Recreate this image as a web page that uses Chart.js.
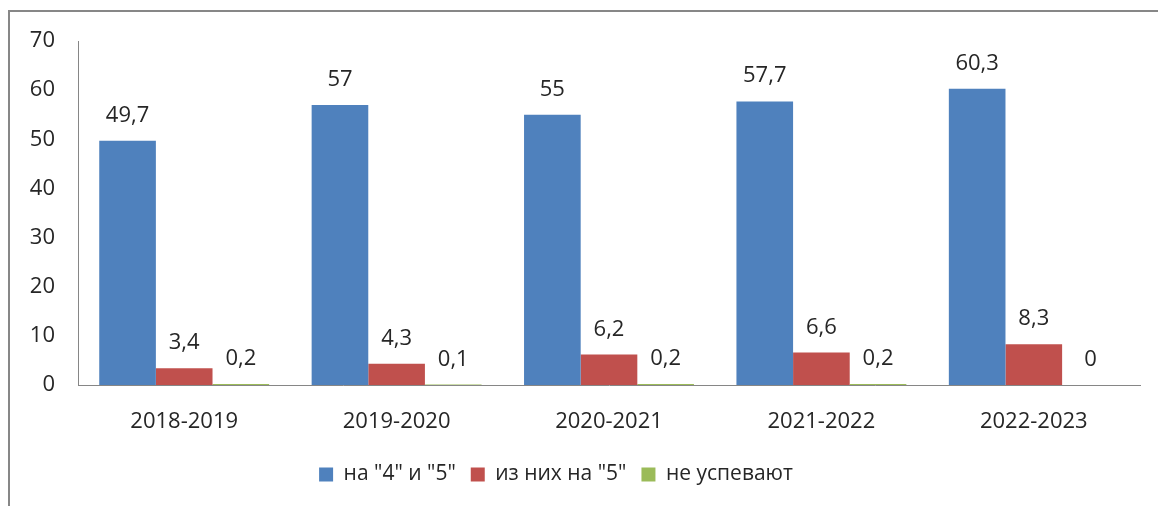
<!DOCTYPE html>
<html>
<head>
<meta charset="utf-8">
<script src="https://cdn.jsdelivr.net/npm/chart.js@4.4.1/dist/chart.umd.min.js"></script>
<style>
  body { margin: 0; background: #fff; overflow: hidden; }
  #frame { position: absolute; left: 8px; top: 10px; width: 1300px; height: 700px; border: 2px solid #878787; }
  #chart { position: absolute; left: 0; top: 0; }
</style>
</head>
<body>
<div id="frame"></div>
<canvas id="chart" width="1158" height="506"></canvas>
<script>
// Chart data
const years = ['2018-2019', '2019-2020', '2020-2021', '2021-2022', '2022-2023'];
const goodAndExcellent = [49.7, 57, 55, 57.7, 60.3];
const excellentOnly = [3.4, 4.3, 6.2, 6.6, 8.3];
const failing = [0.2, 0.1, 0.2, 0.2, 0];
const seriesNames = ['на "4" и "5"', 'из них на "5"', 'не успевают'];
const yTicks = [0, 10, 20, 30, 40, 50, 60, 70];

const fontFamily = '"Open Sans", sans-serif';
const textColor = '#262626';
const axisColor = '#868686';

Chart.defaults.font.family = fontFamily;
Chart.defaults.color = textColor;

// value labels above each bar, comma as decimal separator
const barValueLabels = {
  id: 'barValueLabels',
  afterDatasetsDraw(chart) {
    const ctx = chart.ctx;
    ctx.save();
    ctx.font = '22px ' + fontFamily;
    ctx.fillStyle = textColor;
    ctx.textAlign = 'center';
    ctx.textBaseline = 'alphabetic';
    chart.data.datasets.forEach((ds, i) => {
      chart.getDatasetMeta(i).data.forEach((bar, j) => {
        const txt = String(ds.data[j]).replace('.', ',');
        ctx.fillText(txt, bar.x, bar.y - 19);
      });
    });
    ctx.restore();
  }
};

// legend: fixed height, and centred a bit left like the original
const legendPlacement = {
  id: 'legendPlacement',
  beforeLayout(chart) {
    const legend = chart.legend;
    if (legend && !legend._fitPatched) {
      const origFit = legend.fit;
      legend.fit = function () {
        origFit.call(this);
        this.height = 57;
      };
      legend._fitPatched = true;
    }
  },
  afterLayout(chart) {
    const legend = chart.legend;
    if (legend) {
      legend.left -= 14;
      legend.right -= 14;
    }
  }
};

new Chart(document.getElementById('chart'), {
  type: 'bar',
  data: {
    labels: years,
    datasets: [
      { label: seriesNames[0], data: goodAndExcellent, backgroundColor: '#4F81BD' },
      { label: seriesNames[1], data: excellentOnly, backgroundColor: '#C0504D' },
      { label: seriesNames[2], data: failing, backgroundColor: '#9BBB59' }
    ]
  },
  options: {
    responsive: false,
    animation: false,
    layout: { padding: { left: 0, top: 41, right: 18, bottom: 0 } },
    datasets: { bar: { categoryPercentage: 0.8, barPercentage: 1.0 } },
    scales: {
      x: {
        grid: { display: false, drawTicks: false },
        border: { display: true, color: axisColor, width: 1 },
        ticks: { padding: 24, font: { size: 22 }, color: textColor },
        afterFit(scale) { scale.height = 64; }
      },
      y: {
        min: 0,
        max: 70,
        grid: { display: false, drawTicks: false },
        border: { display: true, color: axisColor, width: 1 },
        afterBuildTicks(scale) { scale.ticks = yTicks.map(v => ({ value: v })); },
        ticks: { padding: 23, font: { size: 22 }, color: textColor },
        afterFit(scale) { scale.width = 78; }
      }
    },
    plugins: {
      legend: {
        position: 'bottom',
        labels: { boxWidth: 14, boxHeight: 14, padding: 15, font: { size: 21 }, color: textColor }
      },
      tooltip: { enabled: false }
    }
  },
  plugins: [barValueLabels, legendPlacement]
});
</script>
</body>
</html>
